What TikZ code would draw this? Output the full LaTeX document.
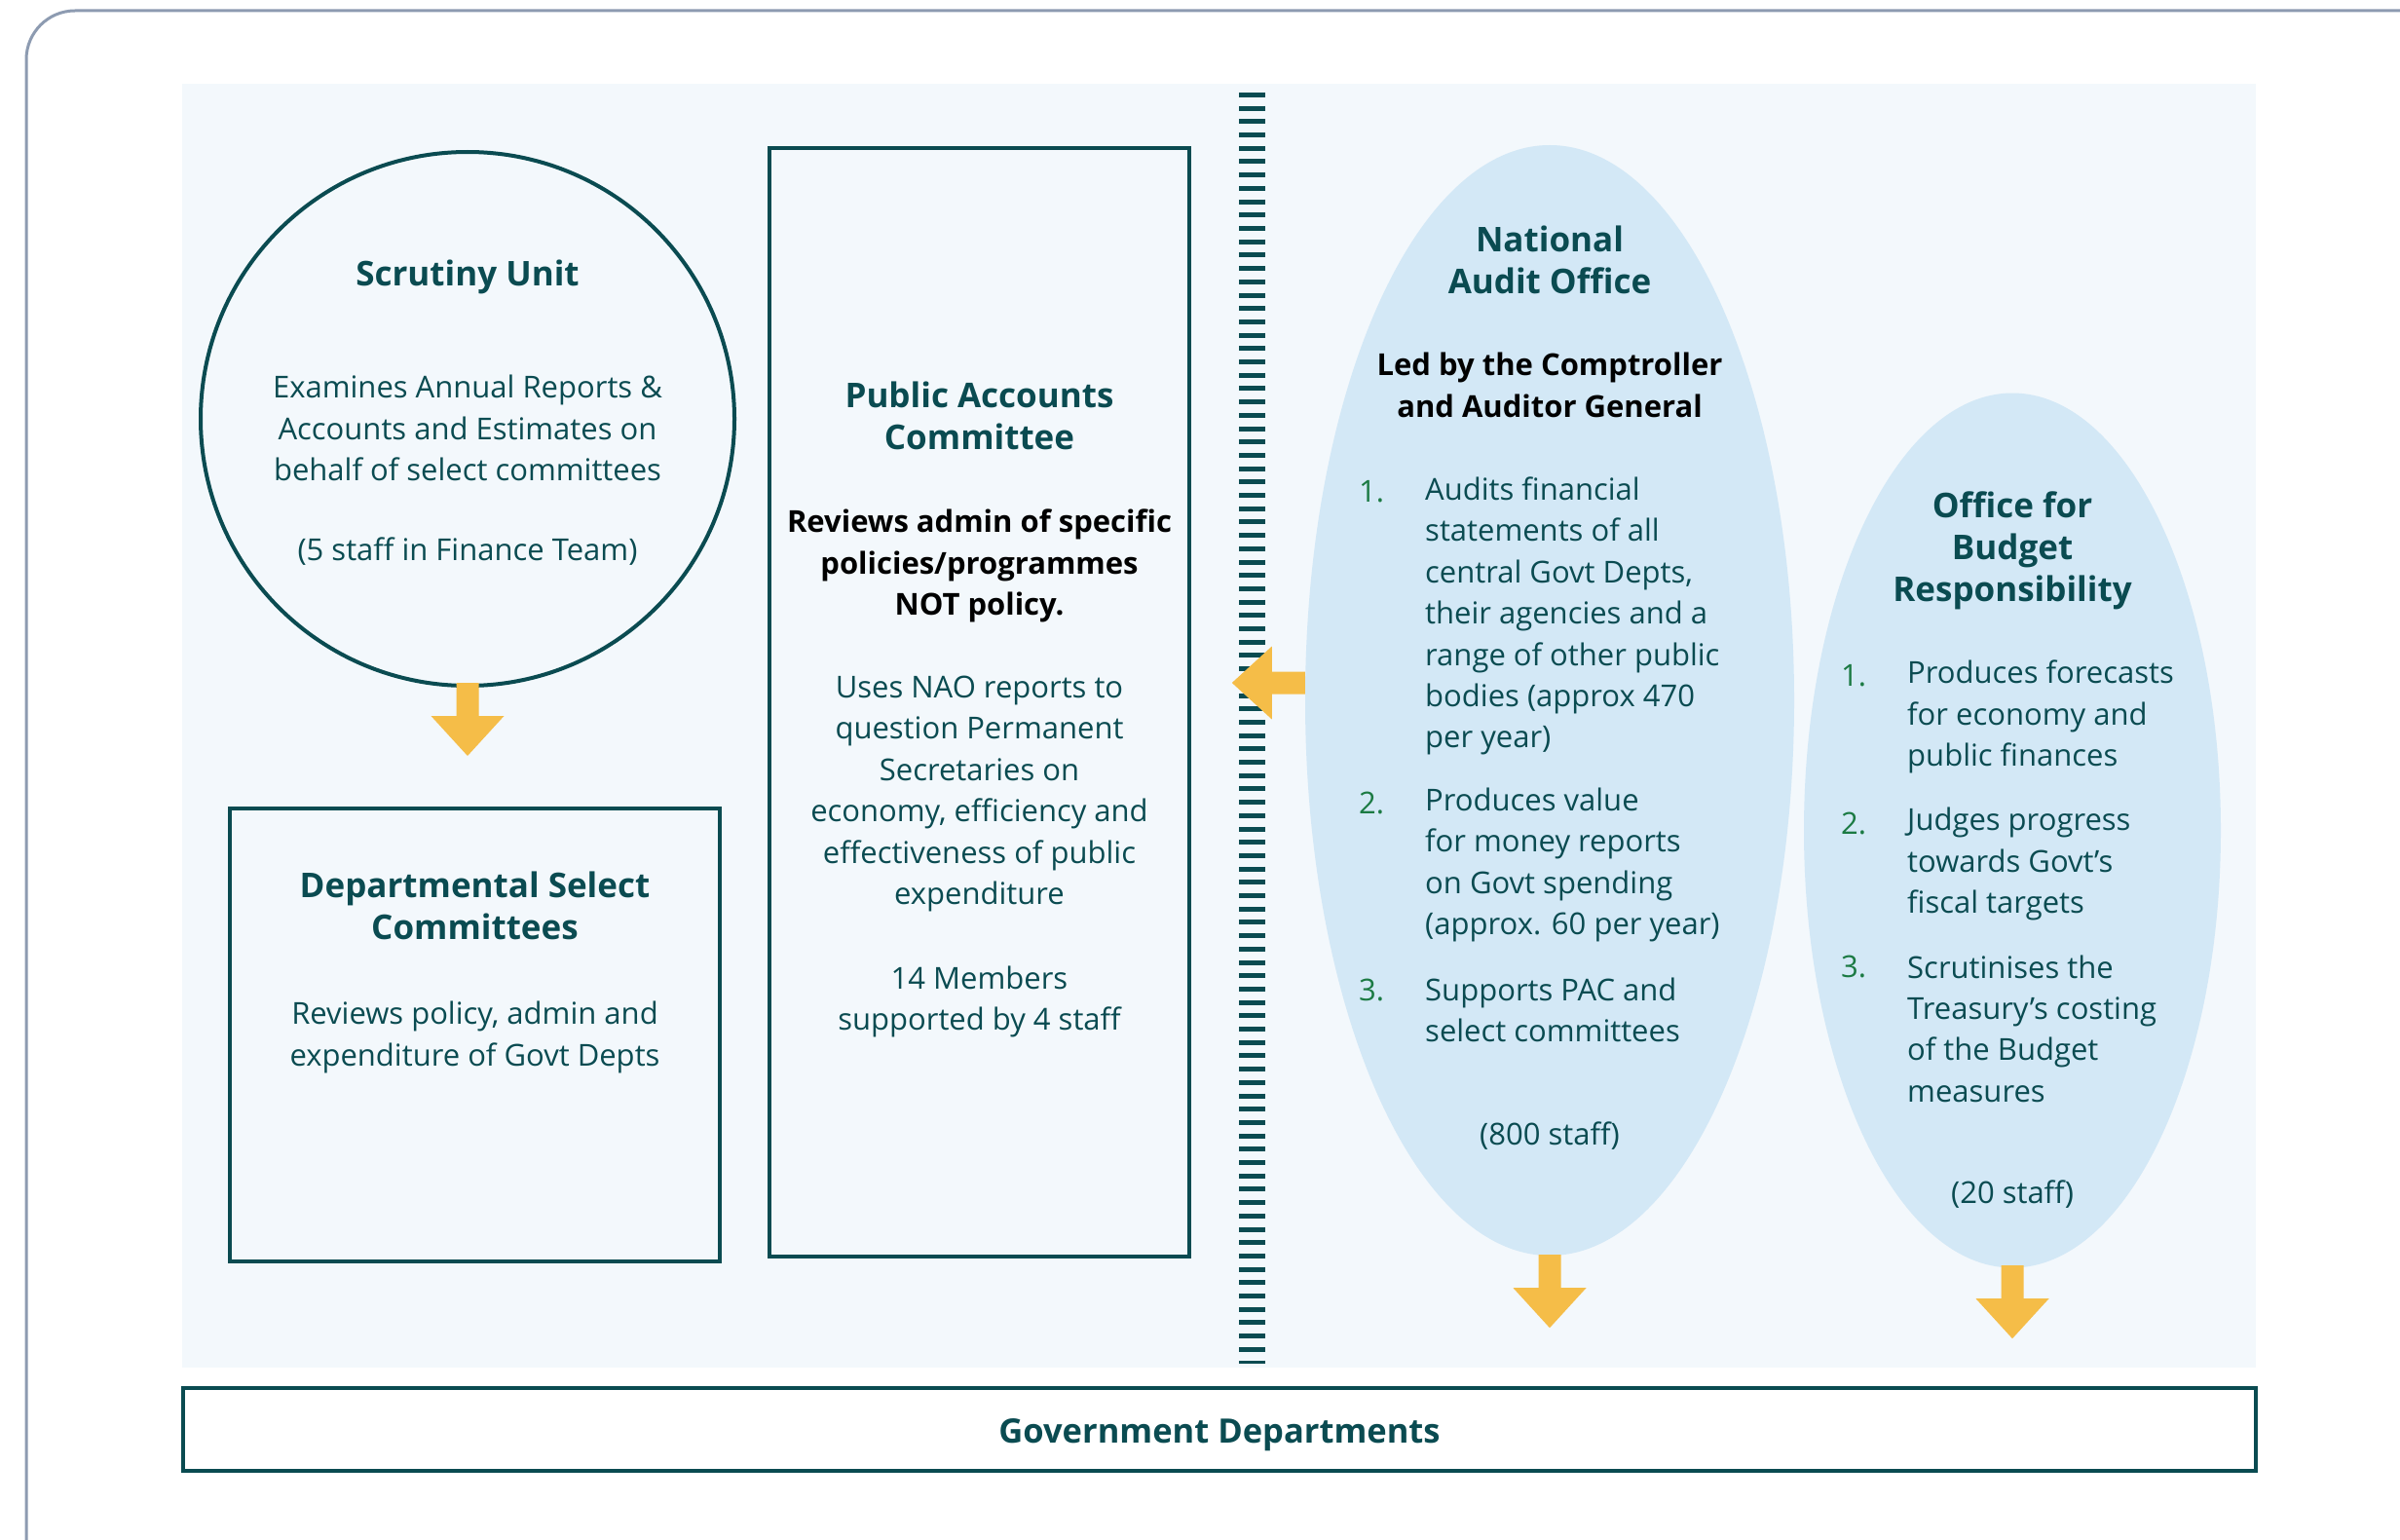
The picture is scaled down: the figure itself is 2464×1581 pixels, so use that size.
\documentclass[tikz,border=0pt]{standalone}
\usepackage{fontspec}
\setmainfont{Open Sans}
\usetikzlibrary{shapes.geometric}
\definecolor{deepteal}{HTML}{0A4B51}
\definecolor{panelbg}{HTML}{F3F8FC}
\definecolor{bodyblue}{HTML}{D3E8F6}
\definecolor{amber}{HTML}{F5BD48}
\definecolor{numgreen}{HTML}{1B7A43}
\definecolor{framegrey}{HTML}{8D9BB1}
\begin{document}
\begin{tikzpicture}[x=1pt,y=-1pt,
  body/.style={text=deepteal, font=\fontsize{31}{42.4}\selectfont, align=center, inner sep=0pt},
  title/.style={text=deepteal, font=\fontsize{35}{43}\selectfont\bfseries, align=center, inner sep=0pt},
  note/.style={text=black, font=\fontsize{31}{42.4}\selectfont\bfseries, align=center, inner sep=0pt},
  num/.style={text=numgreen, font=\fontsize{31}{42.4}\selectfont, anchor=west, inner sep=0pt},
  item/.style={body, align=left, anchor=west},
  outline/.style={draw=deepteal, line width=4pt},
  oval/.style={ellipse, fill=bodyblue, inner sep=0pt},
  blockdown/.pic={\fill[amber] (-11.5,0) -- (-11.5,34) -- (-37.5,34) -- (0,75) -- (37.5,34) -- (11.5,34) -- (11.5,0) -- cycle;}
]
\useasboundingbox (0,0) rectangle (2464,1581);
\fill[white] (0,0) rectangle (2464,1581);

% outer frame, only its top-left corner lies on the page
\draw[framegrey, line width=3pt, rounded corners=50pt] (27,1581) -- (27,11) -- (2464,11);

% light panel behind the diagram
\fill[panelbg] (187,86) rectangle (2316,1404);

% dashed divider between parliament and independent bodies
\draw[deepteal, line width=27pt, dash pattern=on 5pt off 8.7pt] (1285.5,95) -- (1285.5,1400);

% Scrutiny Unit
\node[circle, outline, minimum size=548pt, inner sep=0pt] (su) at (480,430) {};
\node[title] (sut) at (480,284) {Scrutiny Unit};
\node[body] (sub) at (480,439.5) {Examines Annual Reports \&\\Accounts and Estimates on\\behalf of select committees};
\node[body] (sus) at (480,566) {(5 staff in Finance Team)};

% Departmental Select Committees
\node[draw=deepteal, line width=4pt, minimum width=503pt, minimum height=465pt, inner sep=0pt] (dsc) at (487.5,1062.5) {};
\node[title] (dsct) at (487.5,929.5) {Departmental Select\\Committees};
\node[body] (dscb) at (487.5,1065) {Reviews policy, admin and\\expenditure of Govt Depts};

% Public Accounts Committee
\node[draw=deepteal, line width=4pt, minimum width=431pt, minimum height=1138pt, inner sep=0pt] (pac) at (1005.5,721) {};
\node[title] (pact) at (1005.5,426.5) {Public Accounts\\Committee};
\node[note] (pacn) at (1005.5,581) {Reviews admin of specific\\policies/programmes\\NOT policy.};
\node[body] (pacb) at (1005.5,815) {Uses NAO reports to\\question Permanent\\Secretaries on\\economy, efficiency and\\effectiveness of public\\expenditure};
\node[body] (pacm) at (1005.5,1028.5) {14 Members\\supported by 4 staff};

% National Audit Office
\node[oval, minimum width=502pt, minimum height=1140pt] (nao) at (1591,719) {};
\node[title] (naot) at (1591,266.5) {National\\Audit Office};
\node[note] (naol) at (1591,395.5) {Led by the Comptroller\\and Auditor General};
\node[num] (nao1) at (1395,505) {1.};
\node[item] (naoi1) at (1463,632.5) {Audits financial\\statements of all\\central Govt Depts,\\their agencies and a\\range of other public\\bodies (approx 470\\per year)};
\node[num] (nao2) at (1395,824) {2.};
\node[item] (naoi2) at (1463,888) {Produces value\\for money reports\\on Govt spending\\(approx. 60 per year)};
\node[num] (nao3) at (1395,1016) {3.};
\node[item] (naoi3) at (1463,1037) {Supports PAC and\\select committees};
\node[body] (naos) at (1591,1166) {(800 staff)};

% Office for Budget Responsibility
\node[oval, minimum width=428pt, minimum height=898pt] (obr) at (2066,852.5) {};
\node[title] (obrt) at (2066,565) {Office for\\Budget\\Responsibility};
\node[num] (obr1) at (1890,694) {1.};
\node[item] (obri1) at (1958,736) {Produces forecasts\\for economy and\\public finances};
\node[num] (obr2) at (1890,845) {2.};
\node[item] (obri2) at (1958,887) {Judges progress\\towards Govt’s\\fiscal targets};
\node[num] (obr3) at (1890,992) {3.};
\node[item] (obri3) at (1958,1056) {Scrutinises the\\Treasury’s costing\\of the Budget\\measures};
\node[body] (obrs) at (2066,1226) {(20 staff)};

% Government Departments bar
\node[draw=deepteal, line width=4pt, minimum width=2128pt, minimum height=85pt, inner sep=0pt] (gd) at (1252,1467.5) {};
\node[title, font=\fontsize{34.5}{40}\selectfont\bfseries, yshift=-6pt] (gdt) at (gd.center) {Government Departments};

% block arrows
\pic at ([yshift=5pt]su.south) {blockdown};
\pic at ([yshift=1pt]nao.south) {blockdown};
\pic at ([yshift=2.5pt]obr.south) {blockdown};
\pic[rotate=-90] at ([yshift=18pt]nao.west) {blockdown};
\end{tikzpicture}
\end{document}
